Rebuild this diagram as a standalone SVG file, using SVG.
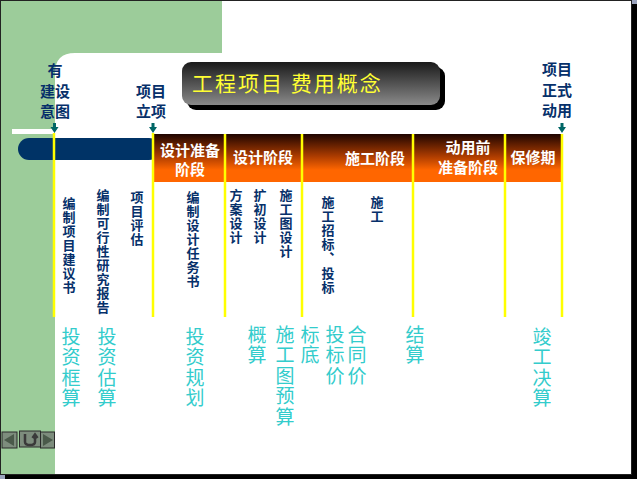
<svg xmlns="http://www.w3.org/2000/svg" width="637" height="479" viewBox="0 0 637 479">
<defs>
<linearGradient id="orange" x1="0" y1="0" x2="0" y2="1">
<stop offset="0" stop-color="#1e0400"/>
<stop offset="0.45" stop-color="#a83a00"/>
<stop offset="0.75" stop-color="#ff6600"/>
<stop offset="1" stop-color="#ff6600"/>
</linearGradient>
<linearGradient id="titleg" x1="0" y1="0" x2="0" y2="1">
<stop offset="0" stop-color="#1a1a1a"/>
<stop offset="1" stop-color="#8a8a8a"/>
</linearGradient>
<style>
.top{font-family:"Noto Sans CJK SC",sans-serif;font-size:15px;font-weight:bold;fill:#06306a;text-anchor:middle}
.hd{font-family:"Noto Sans CJK SC",sans-serif;font-size:15px;font-weight:bold;fill:#ffffff;text-anchor:middle}
.vt{font-family:"Noto Sans CJK SC",sans-serif;font-size:13px;font-weight:bold;fill:#06306a;writing-mode:vertical-rl;letter-spacing:1px}
.ct{font-family:"Noto Sans CJK SC",sans-serif;font-size:19px;fill:#33cccc;writing-mode:vertical-rl;letter-spacing:1.5px}
.yl{stroke:#ffff00;stroke-width:2.5;fill:none}
.arr{fill:#006666}
.btn{fill:#7d8d7d;stroke:#2a2a2a;stroke-width:1}
.ico{fill:#4a5a4a}
</style>
</defs>
<rect x="0" y="0" width="637" height="479" fill="#9aa3bd"/>
<rect x="5" y="4" width="632" height="475" fill="#000000"/>
<rect x="0.5" y="0.5" width="631" height="474" fill="#ffffff" stroke="#222222" stroke-width="1"/>
<path d="M1,1 H222 V53 H75 Q55,53 55,73 V474 H1 Z" fill="#9ccc9a"/>
<rect x="12" y="129" width="44" height="5" fill="#ffffff"/>

<g id="title">
<rect x="187" y="67" width="258" height="43" rx="9" fill="#000000"/>
<rect x="182" y="62" width="258" height="43" rx="9" fill="url(#titleg)"/>
<text x="192" y="91" font-family="'Noto Sans CJK SC',sans-serif" font-size="21" fill="#ffff33" letter-spacing="2">工程项目 费用概念</text>
</g>

<g id="timeline-bar">
<rect x="18" y="138" width="142" height="22" rx="11" fill="#003366"/>
<rect x="153" y="134" width="409" height="48" fill="url(#orange)"/>
</g>

<g id="connectors">
<line class="yl" x1="54" y1="133" x2="54" y2="317"/>
<line class="yl" x1="153" y1="133" x2="153" y2="317"/>
<line class="yl" x1="225" y1="134" x2="225" y2="317"/>
<line class="yl" x1="302" y1="134" x2="302" y2="317"/>
<line class="yl" x1="413" y1="134" x2="413" y2="317"/>
<line class="yl" x1="505" y1="134" x2="505" y2="317"/>
<line class="yl" x1="562" y1="134" x2="562" y2="317"/>
<path class="arr" d="M53,123 H56 V127 H58.5 L54.5,133 L50.5,127 H53 Z"/>
<path class="arr" d="M151.5,123 H154.5 V127 H157 L153,133 L149,127 H151.5 Z"/>
<path class="arr" d="M560.5,123 H563.5 V127 H566 L562,133 L558,127 H560.5 Z"/>
</g>

<g id="milestone-intent">
<text class="top" x="55" y="76">有</text>
<text class="top" x="55" y="97">建设</text>
<text class="top" x="55" y="117">意图</text>
</g>
<g id="milestone-approval">
<text class="top" x="151" y="97">项目</text>
<text class="top" x="151" y="117">立项</text>
</g>
<g id="milestone-use">
<text class="top" x="557" y="75">项目</text>
<text class="top" x="557" y="96">正式</text>
<text class="top" x="557" y="116">动用</text>
</g>

<g id="stage-design-prep">
<text class="hd" x="190" y="156">设计准备</text>
<text class="hd" x="190" y="175">阶段</text>
</g>
<g id="stage-design"><text class="hd" x="263" y="163">设计阶段</text></g>
<g id="stage-construction"><text class="hd" x="375" y="164">施工阶段</text></g>
<g id="stage-pre-use">
<text class="hd" x="468" y="153">动用前</text>
<text class="hd" x="468" y="173">准备阶段</text>
</g>
<g id="stage-warranty"><text class="hd" x="533" y="163">保修期</text></g>

<g id="tasks">
<text class="vt" x="69" y="197">编制项目建议书</text>
<text class="vt" x="103" y="189">编制可行性研究报告</text>
<text class="vt" x="137" y="191">项目评估</text>
<text class="vt" x="193" y="191">编制设计任务书</text>
<text class="vt" x="236" y="189">方案设计</text>
<text class="vt" x="260" y="189">扩初设计</text>
<text class="vt" x="286" y="189">施工图设计</text>
<text class="vt" x="328" y="196">施工招标、</text>
<text class="vt" x="328" y="267">投标</text>
<text class="vt" x="377" y="196">施工</text>
</g>

<g id="costs">
<text class="ct" x="71" y="327">投资框算</text>
<text class="ct" x="107" y="327">投资估算</text>
<text class="ct" x="195" y="327">投资规划</text>
<text class="ct" x="257" y="325">概算</text>
<text class="ct" x="285" y="325">施工图预算</text>
<text class="ct" x="310" y="325">标底</text>
<text class="ct" x="335" y="325">投标价</text>
<text class="ct" x="357" y="325">合同价</text>
<text class="ct" x="415" y="325">结算</text>
<text class="ct" x="542" y="327">竣工决算</text>
</g>

<g id="nav">
<rect class="btn" x="2" y="432" width="15" height="16"/>
<path class="ico" d="M14,434 V446 L4,440 Z"/>
<rect class="btn" x="19.5" y="431" width="21" height="16"/>
<path d="M25,434 V442 Q25,445 30,445 Q35,445 35,442 V436 M32.5,438 L35,434.5 L37.5,438" fill="none" stroke="#3a3a3a" stroke-width="2.5"/>
<rect class="btn" x="40.5" y="432" width="14" height="16"/>
<path class="ico" d="M43,434 V446 L53,440 Z"/>
</g>
</svg>
